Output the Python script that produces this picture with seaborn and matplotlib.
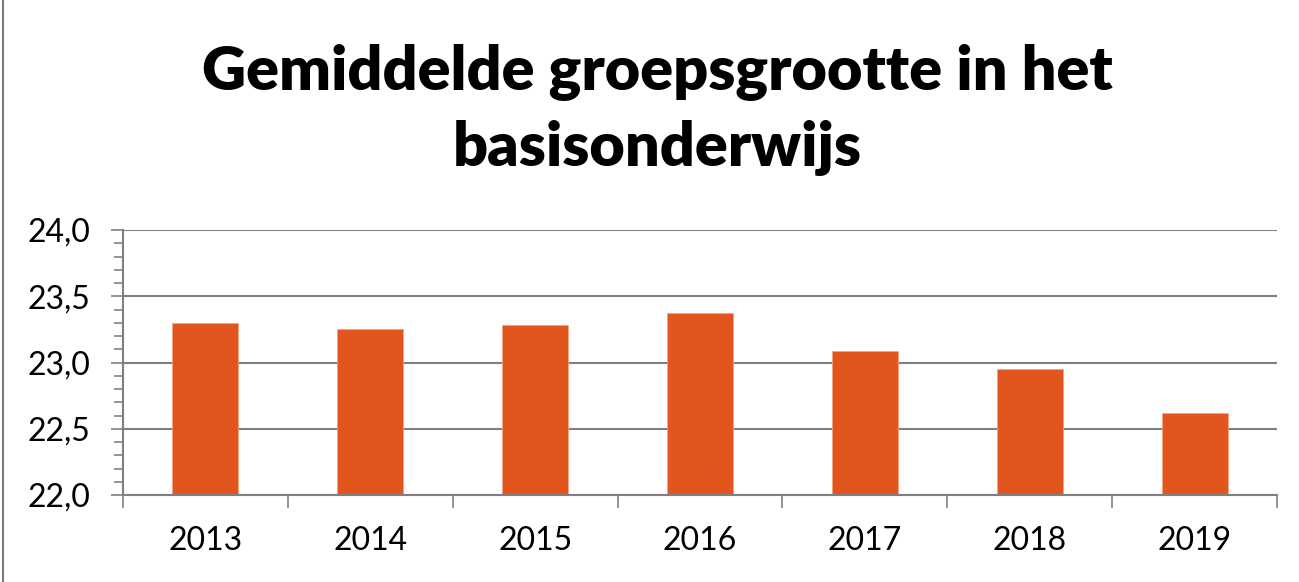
import matplotlib
matplotlib.use("Agg")
import matplotlib.pyplot as plt
from matplotlib.lines import Line2D
from matplotlib.ticker import FixedLocator, MultipleLocator, FuncFormatter
import seaborn as sns
import pandas as pd

years = ["2013", "2014", "2015", "2016", "2017", "2018", "2019"]
values = [23.30, 23.25, 23.28, 23.37, 23.09, 22.95, 22.62]
title_line1 = "Gemiddelde groepsgrootte in het"
title_line2 = "basisonderwijs"

sns.set_theme(style="white")
plt.rcParams["font.family"] = ["Lato", "DejaVu Sans"]

BAR = "#E2561D"
GRID = "#808080"

fig = plt.figure(figsize=(12.99, 5.82), dpi=100)
ax = fig.add_axes([123/1299, 1 - 495/582, (1277 - 123)/1299, (495 - 230)/582])

df = pd.DataFrame({"year": years, "value": values})
sns.barplot(data=df, x="year", y="value", color=BAR, width=0.4, ax=ax,
            saturation=1, edgecolor="#F4A27F", linewidth=0.6)

ax.set_ylim(22.0, 24.0)
ax.set_xlim(-0.5, len(years) - 0.5)
ax.set_xlabel("")
ax.set_ylabel("")

ax.yaxis.set_major_locator(MultipleLocator(0.5))
ax.yaxis.set_minor_locator(MultipleLocator(0.1))
ax.yaxis.set_major_formatter(FuncFormatter(lambda v, p: f"{v:.1f}".replace(".", ",")))
ax.grid(axis="y", which="major", color=GRID, linewidth=1.5, zorder=0)
ax.set_axisbelow(True)

ax.tick_params(axis="y", which="major", left=True, length=8.6, width=1.2, color=GRID,
               labelsize=23, pad=15, labelcolor="black")
ax.tick_params(axis="y", which="minor", left=True, length=6.5, width=1.2, color=GRID)

ax.xaxis.set_minor_locator(FixedLocator([i - 0.5 for i in range(len(years) + 1)]))
ax.tick_params(axis="x", which="major", bottom=True, length=0, labelsize=23, pad=22,
               labelcolor="black")
ax.tick_params(axis="x", which="minor", bottom=True, length=9, width=1.2, color=GRID)

for s in ["top", "right"]:
    ax.spines[s].set_visible(False)
for s in ["left", "bottom"]:
    ax.spines[s].set_color(GRID)
    ax.spines[s].set_linewidth(1.5)

fig.text(0.506, 1 - 89/582, title_line1, ha="center", va="baseline",
         fontsize=44, fontweight="heavy", color="black")
fig.text(0.506, 1 - 166/582, title_line2, ha="center", va="baseline",
         fontsize=44, fontweight="heavy", color="black")

fig.add_artist(Line2D([2.5/1299, 2.5/1299], [0, 1], transform=fig.transFigure,
                      color="#7a7a7a", linewidth=1.5))

fig.savefig("out.png", dpi=100, facecolor="white")
